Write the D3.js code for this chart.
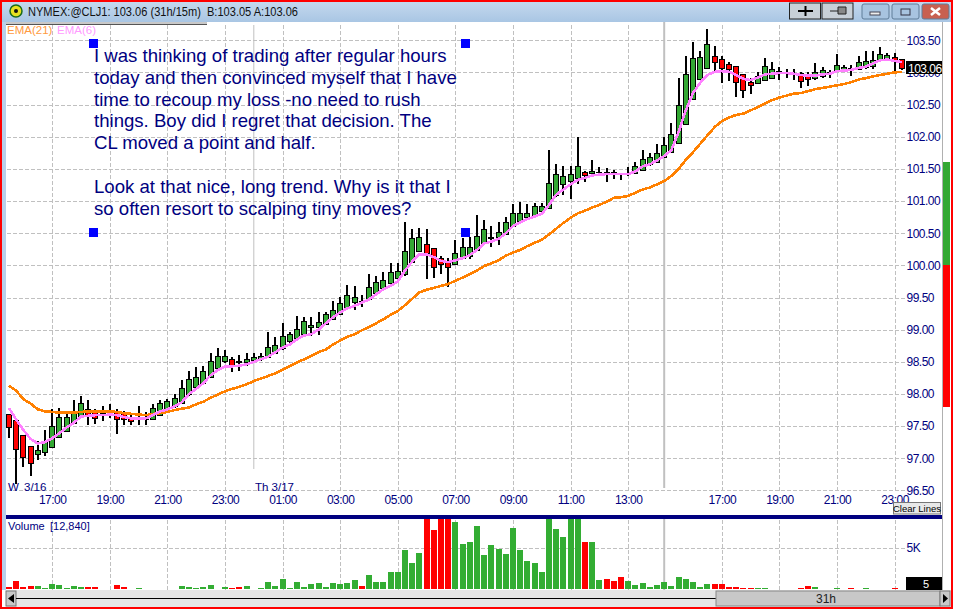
<!DOCTYPE html>
<html>
<head>
<meta charset="utf-8">
<title>NYMEX:@CLJ1</title>
<script src="https://cdn.jsdelivr.net/npm/d3@7"></script>
<style>
    html, body { margin: 0; padding: 0; background: #fff; overflow: hidden; }
    svg { display: block; font-family: "Liberation Sans", Arial, sans-serif; }
    .navy { fill: #000080; }
    .tight { letter-spacing: -0.5px; }
    .tick line { shape-rendering: crispEdges; }
</style>
</head>
<body>
<svg id="chart" width="953" height="610"></svg>
<script>
const opens = [97.68,97.59,97.36,97.19,97.06,97.09,97.17,97.33,97.41,97.54,
    97.64,97.76,97.75,97.70,97.69,97.73,97.69,97.64,97.61,97.61,
    97.60,97.67,97.73,97.80,97.85,97.99,98.10,98.17,98.26,98.39,
    98.50,98.53,98.50,98.49,98.52,98.54,98.57,98.63,98.70,98.81,
    98.86,98.93,99.03,99.04,99.08,99.16,99.24,99.33,99.42,99.44,
    99.47,99.56,99.64,99.71,99.80,99.85,100.04,100.21,100.32,100.26,
    100.11,100.06,100.02,100.11,100.13,100.23,100.34,100.41,100.43,100.48,
    100.60,100.68,100.74,100.78,100.84,100.88,101.08,101.25,101.31,101.35,
    101.45,101.43,101.44,101.44,101.44,101.43,101.42,101.43,101.48,101.57,
    101.60,101.68,101.76,101.89,102.19,102.58,102.89,103.06,103.25,103.20,
    103.13,103.09,102.97,102.84,102.83,102.88,102.91,103.00,102.99,102.98,
    102.98,102.94,102.91,102.94,102.99,103.02,103.02,103.06,103.05,103.08,
    103.09,103.19,103.21,103.23,103.20];
const highs = [97.69,97.60,97.36,97.19,97.27,97.44,97.76,97.78,97.69,97.91,
    97.97,97.91,97.76,97.81,97.85,97.76,97.73,97.68,97.82,97.72,
    97.85,97.90,97.92,98.00,98.22,98.36,98.42,98.43,98.64,98.71,
    98.68,98.58,98.60,98.64,98.64,98.64,98.96,98.89,99.10,98.96,
    99.21,99.19,99.19,99.28,99.28,99.44,99.51,99.69,99.68,99.54,
    99.86,99.83,99.89,100.03,100.03,100.67,100.56,100.58,100.56,100.26,
    100.14,100.11,100.39,100.42,100.44,100.78,100.70,100.61,100.67,100.75,
    100.95,100.99,100.95,100.97,100.97,101.80,101.58,101.55,101.55,102.00,
    101.47,101.64,101.53,101.51,101.48,101.43,101.53,101.60,101.79,101.74,
    101.89,102.00,102.21,102.91,103.26,103.47,103.33,103.68,103.41,103.25,
    103.17,103.09,102.97,102.91,103.00,103.22,103.17,103.09,103.06,103.05,
    103.00,103.00,103.14,103.09,103.04,103.28,103.12,103.12,103.25,103.34,
    103.33,103.39,103.30,103.30,103.20];
const lows = [97.32,96.60,96.87,96.73,96.97,97.04,97.17,97.33,97.41,97.54,
    97.64,97.52,97.53,97.58,97.62,97.38,97.52,97.52,97.52,97.52,
    97.60,97.67,97.71,97.78,97.85,97.97,98.08,98.17,98.26,98.39,
    98.48,98.34,98.36,98.43,98.49,98.52,98.56,98.63,98.68,98.80,
    98.85,98.93,98.90,98.91,99.07,99.16,99.24,99.31,99.31,99.35,
    99.45,99.56,99.64,99.71,99.79,99.83,100.04,100.21,99.79,99.81,
    99.86,99.67,100.02,100.11,100.10,100.23,100.34,100.28,100.31,100.48,
    100.60,100.66,100.72,100.78,100.82,100.88,101.07,101.10,101.03,101.26,
    101.30,101.40,101.40,101.30,101.35,101.33,101.39,101.43,101.48,101.55,
    101.60,101.68,101.76,101.89,102.19,102.58,102.89,103.06,103.03,102.84,
    102.86,102.62,102.61,102.67,102.83,102.88,102.90,102.89,102.92,102.89,
    102.76,102.79,102.89,102.92,102.91,103.00,103.01,102.94,103.04,103.06,
    103.06,103.19,103.19,103.02,103.04];
const closes = [97.48,97.14,97.01,96.92,97.12,97.25,97.50,97.64,97.64,97.73,
    97.85,97.66,97.62,97.72,97.75,97.61,97.61,97.57,97.64,97.64,
    97.78,97.85,97.88,97.93,98.09,98.23,98.25,98.35,98.51,98.59,
    98.58,98.45,98.49,98.53,98.56,98.59,98.72,98.76,98.90,98.92,
    99.01,99.12,99.06,99.11,99.23,99.30,99.41,99.53,99.50,99.43,
    99.66,99.73,99.77,99.89,99.91,100.22,100.41,100.44,100.18,99.97,
    100.02,99.97,100.18,100.27,100.28,100.45,100.55,100.43,100.51,100.67,
    100.81,100.81,100.81,100.91,100.91,101.28,101.42,101.38,101.41,101.54,
    101.40,101.46,101.45,101.43,101.42,101.42,101.43,101.54,101.65,101.67,
    101.74,101.87,102.03,102.48,102.97,103.22,103.23,103.44,103.16,103.06,
    103.05,102.84,102.72,102.80,102.93,103.09,103.05,103.01,103.00,102.99,
    102.86,102.89,103.00,103.03,103.00,103.11,103.08,103.05,103.16,103.17,
    103.19,103.28,103.27,103.17,103.06];
const volumes = [240,930,240,360,360,120,600,480,120,360,
    240,240,240,0,0,480,240,0,120,0,
    0,0,0,0,360,240,120,240,480,0,
    240,120,240,360,0,120,850,360,1210,120,
    850,240,600,730,240,730,600,730,1090,360,
    1690,850,850,2060,2060,4720,3140,4350,9000,7130,
    9000,9000,8100,5440,5680,7620,4110,5320,4840,4230,
    7380,4720,3390,3140,2060,9000,7250,6290,9000,9000,
    5680,5680,1090,1210,970,1450,970,480,730,240,
    480,850,360,1450,1210,850,240,600,600,600,
    240,240,120,120,120,120,0,0,0,0,
    120,360,240,0,0,120,0,120,0,120,
    0,0,0,120,0];
const ema21 = [98.13,98.05,97.92,97.85,97.76,97.73,97.72,97.71,97.71,97.71,
    97.72,97.73,97.73,97.73,97.73,97.72,97.70,97.69,97.68,97.67,
    97.69,97.70,97.72,97.75,97.77,97.79,97.84,97.88,97.94,97.99,
    98.04,98.08,98.11,98.15,98.20,98.24,98.28,98.32,98.38,98.43,
    98.49,98.54,98.59,98.65,98.69,98.77,98.83,98.89,98.93,98.99,
    99.04,99.10,99.16,99.23,99.29,99.38,99.48,99.58,99.62,99.65,
    99.68,99.71,99.76,99.81,99.86,99.92,99.99,100.03,100.08,100.15,
    100.20,100.24,100.30,100.35,100.40,100.48,100.57,100.66,100.74,100.81,
    100.85,100.90,100.94,100.99,101.05,101.06,101.08,101.13,101.18,101.21,
    101.26,101.31,101.39,101.50,101.64,101.76,101.89,102.02,102.15,102.24,
    102.30,102.34,102.36,102.41,102.46,102.52,102.57,102.61,102.64,102.67,
    102.68,102.71,102.74,102.76,102.78,102.80,102.82,102.85,102.89,102.91,
    102.94,102.96,102.98,103.00,103.01];
const ema6 = [97.78,97.60,97.44,97.30,97.23,97.25,97.31,97.39,97.48,97.55,
    97.65,97.66,97.67,97.67,97.68,97.67,97.64,97.62,97.62,97.62,
    97.67,97.73,97.76,97.81,97.87,98.00,98.08,98.17,98.29,98.37,
    98.43,98.43,98.44,98.46,98.50,98.54,98.58,98.65,98.72,98.77,
    98.85,98.91,98.93,99.00,99.10,99.19,99.27,99.33,99.37,99.42,
    99.47,99.55,99.63,99.68,99.75,99.92,100.06,100.17,100.17,100.13,
    100.07,100.05,100.08,100.11,100.16,100.24,100.34,100.37,100.41,100.50,
    100.61,100.67,100.72,100.76,100.80,100.94,101.10,101.18,101.26,101.33,
    101.36,101.40,101.41,101.42,101.42,101.42,101.42,101.46,101.54,101.57,
    101.63,101.70,101.79,102.07,102.41,102.68,102.84,102.96,103.01,103.02,
    103.01,102.96,102.90,102.88,102.92,102.97,102.98,102.99,102.99,102.98,
    102.96,102.95,102.95,102.97,102.98,103.02,103.03,103.04,103.07,103.09,
    103.14,103.19,103.20,103.18,103.16];

const priceTicks = [96.5,97,97.5,98,98.5,99,99.5,100,100.5,101,101.5,102,102.5,103,103.5];
const timeTickBars = [6,14,22,30,38,46,54,62,70,78,86,99,107,115,123];
const timeTickLabels = ["17:00","19:00","21:00","23:00","01:00","03:00","05:00","07:00","09:00","11:00","13:00","17:00","19:00","21:00","23:00"];
const volumeTicks = [5000];
const noteLines = ["I was thinking of trading after regular hours",
    "today and then convinced myself that I have",
    "time to recoup my loss -no need to rush",
    "things. Boy did I regret that decision. The",
    "CL moved a point and half.",
    "",
    "Look at that nice, long trend. Why is it that I",
    "so often resort to scalping tiny moves?"];

const svg = d3.select("svg#chart");
const bars = d3.range(opens.length);
const green = "#33a833", volGreen = "#33ad33", red = "#ff0000";
const gridDash = "4,2";

const x = d3.scaleLinear().domain([0, 124]).range([9, 901.8]);
const y = d3.scaleLinear().domain([96.5, 103.5]).range([490.4, 40.3]);
const yVol = d3.scaleLinear().domain([0, 5000]).range([589, 547.7]);

svg.append("rect").attr("width", 953).attr("height", 610).attr("fill", "#fff");

// panes are clipped, volume spikes get cut by the navy divider
svg.append("clipPath").attr("id", "volClip").append("rect")
    .attr("x", 6).attr("y", 519).attr("width", 936).attr("height", 71);

// price grid + labels
const priceAxis = d3.axisRight(y).tickValues(priceTicks).tickFormat(d3.format(".2f")).tickSize(899).tickPadding(3);
const gp = svg.append("g").attr("transform", "translate(6.5,0)").call(priceAxis);
gp.select(".domain").remove();
gp.selectAll("line").attr("stroke", "#c0c0c0").attr("stroke-dasharray", gridDash);
gp.selectAll("text").attr("class", "navy tight").attr("font-size", 12).attr("x", 900)
    .attr("font-family", "Liberation Sans");

// time grid + labels
const timeFmt = i => timeTickLabels[timeTickBars.indexOf(i)];
const timeAxis = d3.axisBottom(x).tickValues(timeTickBars).tickFormat(timeFmt).tickSize(-468).tickPadding(3);
const gt = svg.append("g").attr("transform", "translate(0,490.5)").call(timeAxis);
gt.select(".domain").remove();
gt.selectAll("line").attr("stroke", "#c0c0c0").attr("stroke-dasharray", gridDash);
gt.selectAll("text").attr("class", "navy tight").attr("font-size", 12).attr("y", 4.5)
    .attr("font-family", "Liberation Sans");

// volume grid
const volGridX = d3.axisBottom(x).tickValues(timeTickBars).tickFormat("").tickSize(-71);
const gvx = svg.append("g").attr("transform", "translate(0,590)").call(volGridX);
gvx.select(".domain").remove();
gvx.selectAll("line").attr("stroke", "#c0c0c0").attr("stroke-dasharray", gridDash);
const volAxis = d3.axisRight(yVol).tickValues(volumeTicks).tickFormat(d => d / 1000 + "K").tickSize(899);
const gv = svg.append("g").attr("transform", "translate(6.5,0)").call(volAxis);
gv.select(".domain").remove();
gv.selectAll("line").attr("stroke", "#c0c0c0").attr("stroke-dasharray", gridDash);
gv.selectAll("text").attr("class", "navy tight").attr("font-size", 12).attr("x", 900)
    .attr("font-family", "Liberation Sans");

// day and session breaks
svg.append("line").attr("x1", x(34)).attr("x2", x(34)).attr("y1", 25).attr("y2", 469)
    .attr("stroke", "#c0c0c0").attr("stroke-width", 1);
svg.append("line").attr("x1", x(91)).attr("x2", x(91)).attr("y1", 22).attr("y2", 488)
    .attr("stroke", "#c0c0c0").attr("stroke-width", 2);
svg.append("line").attr("x1", x(91)).attr("x2", x(91)).attr("y1", 519).attr("y2", 590)
    .attr("stroke", "#c0c0c0").attr("stroke-width", 2);

// volume bars
svg.append("g").attr("clip-path", "url(#volClip)").attr("shape-rendering", "crispEdges").selectAll("rect")
    .data(bars)
    .join("rect")
    .attr("x", i => x(i) - 3)
    .attr("width", 6)
    .attr("y", i => yVol(volumes[i]))
    .attr("height", i => yVol(0) - yVol(volumes[i]))
    .attr("fill", i => closes[i] < opens[i] ? red : volGreen);

// candles
const candles = svg.append("g").attr("shape-rendering", "crispEdges");
candles.selectAll("line")
    .data(bars)
    .join("line")
    .attr("x1", i => x(i)).attr("x2", i => x(i))
    .attr("y1", i => y(highs[i])).attr("y2", i => y(lows[i]))
    .attr("stroke", "#000").attr("stroke-width", 2);
candles.selectAll("rect")
    .data(bars)
    .join("rect")
    .attr("x", i => x(i) - 2.5)
    .attr("width", 5)
    .attr("y", i => y(Math.max(opens[i], closes[i])))
    .attr("height", i => Math.abs(y(opens[i]) - y(closes[i])))
    .attr("fill", i => closes[i] < opens[i] ? red : green)
    .attr("stroke", "#000").attr("stroke-width", 1);

// moving averages
const lineOf = arr => d3.line().x(i => x(i)).y(i => y(arr[i]))(bars);
svg.append("path").attr("d", lineOf(ema21)).attr("fill", "none")
    .attr("stroke", "#ff8000").attr("stroke-width", 2.6).attr("shape-rendering", "crispEdges");
svg.append("path").attr("d", lineOf(ema6)).attr("fill", "none")
    .attr("stroke", "#ff80ff").attr("stroke-width", 2.6).attr("shape-rendering", "crispEdges");

// annotation
svg.append("g").selectAll("text")
    .data(noteLines)
    .join("text")
    .attr("x", 94)
    .attr("y", (d, i) => 61.7 + i * 21.9)
    .attr("font-size", 18.6)
    .attr("fill", "#000080")
    .text(d => d);
svg.append("g").selectAll("rect")
    .data([[89, 39], [461, 39], [89, 228], [461, 228]])
    .join("rect")
    .attr("x", d => d[0]).attr("y", d => d[1])
    .attr("width", 9).attr("height", 9)
    .attr("fill", "#0000ff");

// labels inside panes
svg.append("text").attr("x", 7).attr("y", 34).attr("font-size", 11.5).attr("fill", "#ff9a40").text("EMA(21)");
svg.append("text").attr("x", 57).attr("y", 34).attr("font-size", 11.5).attr("fill", "#ff9cff").text("EMA(6)");
svg.append("text").attr("x", 8).attr("y", 491).attr("font-size", 11.5).attr("class", "navy").text("W");
svg.append("text").attr("x", 24).attr("y", 491).attr("font-size", 11.5).attr("class", "navy").text("3/16");
svg.append("text").attr("x", 255).attr("y", 491).attr("font-size", 11.5).attr("class", "navy").text("Th 3/17");
svg.append("text").attr("x", 8).attr("y", 529.5).attr("font-size", 11).attr("class", "navy").text("Volume");
svg.append("text").attr("x", 50).attr("y", 529.5).attr("font-size", 11).attr("class", "navy").text("[12,840]");

// pane divider
svg.append("rect").attr("x", 6).attr("y", 515).attr("width", 936).attr("height", 4).attr("fill", "#000080");

// window chrome
const defs = svg.append("defs");
const grad = defs.append("linearGradient").attr("id", "titleGrad").attr("x1", 0).attr("x2", 0).attr("y1", 0).attr("y2", 1);
grad.append("stop").attr("offset", 0).attr("stop-color", "#c4d8ee");
grad.append("stop").attr("offset", 1).attr("stop-color", "#a9c6e4");
svg.append("rect").attr("x", 2).attr("y", 2).attr("width", 949).attr("height", 20).attr("fill", "url(#titleGrad)");
svg.append("rect").attr("x", 2).attr("y", 22).attr("width", 4).attr("height", 568).attr("fill", "#b8d0ea");
svg.append("rect").attr("x", 6).attr("y", 22).attr("width", 201).attr("height", 3).attr("fill", "#c8c8c8");
svg.append("rect").attr("x", 6).attr("y", 24).attr("width", 201).attr("height", 1).attr("fill", "#555");
svg.append("circle").attr("cx", 16).attr("cy", 11).attr("r", 6).attr("fill", "#e8e020").attr("stroke", "#1a6a1a").attr("stroke-width", 1.5);
svg.append("circle").attr("cx", 16).attr("cy", 11).attr("r", 2).attr("fill", "#111");
svg.append("text").attr("x", 28).attr("y", 16).attr("font-size", 12).attr("fill", "#111")
    .attr("textLength", 270).attr("lengthAdjust", "spacingAndGlyphs")
    .style("white-space", "pre").text("NYMEX:@CLJ1: 103.06 (31h/15m)  B:103.05 A:103.06");

// toolbar buttons
[[789.5, 31], [822, 31]].forEach(d => {
    svg.append("rect").attr("x", d[0]).attr("y", 3).attr("width", d[1]).attr("height", 16)
        .attr("fill", "#c8d0d8").attr("stroke", "#222");
});
svg.append("path").attr("d", "M798 11H813M805.5 6V16").attr("stroke", "#000").attr("stroke-width", 2);
svg.append("path").attr("d", "M830 11H838M838 7H846V14H838Z").attr("stroke", "#222").attr("fill", "#888").attr("stroke-width", 1);
[[862, "#a8c4e0"], [892, "#a8c4e0"], [922, "#c86050"]].forEach(d => {
    svg.append("rect").attr("x", d[0]).attr("y", 4).attr("width", 27).attr("height", 15).attr("rx", 2)
        .attr("fill", d[1]).attr("stroke", "#5f7c98");
});
svg.append("rect").attr("x", 870).attr("y", 12).attr("width", 10).attr("height", 3).attr("fill", "#eee").attr("stroke", "#445");
svg.append("rect").attr("x", 901).attr("y", 9).attr("width", 9).attr("height", 6).attr("fill", "none").attr("stroke", "#334");
svg.append("path").attr("d", "M931 8L940 15M940 8L931 15").attr("stroke", "#fff").attr("stroke-width", 2.5);

// right hand strip
svg.append("rect").attr("x", 942).attr("y", 22).attr("width", 1).attr("height", 568).attr("fill", "#b0b0b0");
svg.append("rect").attr("x", 943).attr("y", 162).attr("width", 7).attr("height", 103).attr("fill", "#33a833");
svg.append("rect").attr("x", 943).attr("y", 265).attr("width", 7).attr("height", 142).attr("fill", "#ff0000");

// last price tag
svg.append("rect").attr("x", 906).attr("y", 61).attr("width", 36).attr("height", 13).attr("fill", "#000");
svg.append("text").attr("x", 908).attr("y", 72.5).attr("font-size", 12).attr("class", "tight").attr("fill", "#fff").text("103.06");
// cursor volume tag
svg.append("rect").attr("x", 906).attr("y", 577).attr("width", 36).attr("height", 13).attr("fill", "#000");
svg.append("text").attr("x", 926).attr("y", 588).attr("font-size", 11).attr("fill", "#fff").attr("text-anchor", "middle").text("5");

// clear lines button
svg.append("rect").attr("x", 893.5).attr("y", 502.5).attr("width", 47).attr("height", 11.5)
    .attr("fill", "#e8e8e8").attr("stroke", "#777");
svg.append("text").attr("x", 917).attr("y", 512).attr("font-size", 9.5).attr("fill", "#000")
    .attr("text-anchor", "middle").text("Clear Lines");

// scrollbar
svg.append("rect").attr("x", 6).attr("y", 590).attr("width", 945).attr("height", 17).attr("fill", "#e6e6e6");
svg.append("rect").attr("x", 6).attr("y", 591).attr("width", 10).attr("height", 15).attr("fill", "#c8c8c8").attr("stroke", "#777");
svg.append("path").attr("d", "M8 598.5L14 594V603Z").attr("fill", "#000");
svg.append("line").attr("x1", 16).attr("x2", 716).attr("y1", 598.5).attr("y2", 598.5).attr("stroke", "#000");
svg.append("rect").attr("x", 716).attr("y", 591).attr("width", 224).attr("height", 15).attr("fill", "#c8c8c8").attr("stroke", "#888");
svg.append("text").attr("x", 826).attr("y", 603).attr("font-size", 12).attr("text-anchor", "middle").attr("fill", "#222").text("31h");
svg.append("rect").attr("x", 940).attr("y", 591).attr("width", 10).attr("height", 15).attr("fill", "#c8c8c8").attr("stroke", "#777");
svg.append("path").attr("d", "M948 598.5L943 594V603Z").attr("fill", "#000");

// red window border
svg.append("rect").attr("x", 1).attr("y", 1).attr("width", 951).attr("height", 607)
    .attr("fill", "none").attr("stroke", "#ff0000").attr("stroke-width", 2);
</script>
</body>
</html>
